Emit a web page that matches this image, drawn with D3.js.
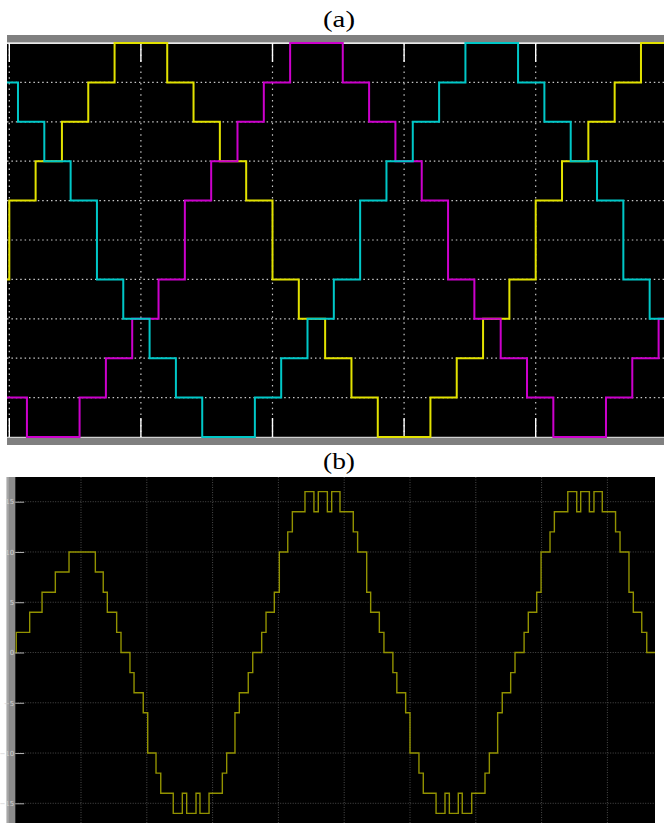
<!DOCTYPE html>
<html>
<head>
<meta charset="utf-8">
<script src="https://cdn.jsdelivr.net/npm/d3@7"></script>
<style>
  body { margin: 0; background: #fff; }
  svg { display: block; }
</style>
</head>
<body>
<div id="chart"></div>
<script>
// ---- panel (a): three phase staircase voltages (time in ms, level in steps)
const phaseA_t = [-0.1, 0, 1, 2, 3, 4, 6, 7, 8, 9, 10, 11, 12, 13, 14, 16, 17, 18, 19, 20, 21, 22, 23, 24];
const phaseA_v = [-1, 1, 2, 3, 4, 5, 4, 3, 2, 1, -1, -2, -3, -4, -5, -4, -3, -2, -1, 1, 2, 3, 4, 5];

const phaseB_t = [-0.1, 0.33, 1.33, 2.33, 3.33, 4.33, 5.33, 6.33, 7.33, 9.33, 10.33, 11.33, 12.33, 13.33, 14.33, 15.33, 16.33, 17.33, 19.33, 20.33, 21.33, 22.33, 23.33, 24.33];
const phaseB_v = [4, 3, 2, 1, -1, -2, -3, -4, -5, -4, -3, -2, -1, 1, 2, 3, 4, 5, 4, 3, 2, 1, -1, -2];

const phaseC_t = [-0.1, 0.67, 2.67, 3.67, 4.67, 5.67, 6.67, 7.67, 8.67, 9.67, 10.67, 12.67, 13.67, 14.67, 15.67, 16.67, 17.67, 18.67, 19.67, 20.67, 22.67, 23.67, 24.67];
const phaseC_v = [-4, -5, -4, -3, -2, -1, 1, 2, 3, 4, 5, 4, 3, 2, 1, -1, -2, -3, -4, -5, -4, -3, -2];

const gridA_t = [0, 5, 10, 15, 20];
const gridA_v = [-4, -3, -2, -1, 0, 1, 2, 3, 4];

// ---- panel (b): line voltage staircase
const line_t = [0, 0.08, 1.1, 2.04, 3.05, 4.09, 6.09, 6.69, 7.0, 7.71, 8.04, 8.72, 9.03, 9.73, 10.07, 10.7,
  11.06, 12.01, 12.7, 13.03, 13.74, 14.04, 14.73, 15.74, 16.07, 16.7, 17.03, 17.71, 18.05, 18.73, 19.06,
  19.69, 20.07, 20.71, 21.06, 22.02, 22.7, 23.03, 23.72, 24.05, 24.68, 25.69, 26.02, 26.71, 27.01, 27.67,
  28.02, 28.7, 29.0, 29.67, 30.0, 30.68, 31.01, 31.98, 32.66, 32.99, 33.67, 33.97, 34.69, 35.7, 36.03,
  36.66, 37.01, 37.65, 37.98, 38.67, 38.99, 39.63, 39.96, 40.64, 40.97, 41.99, 42.67, 42.97, 43.63, 43.98,
  44.61, 45.62, 45.96, 46.64, 46.97, 47.61, 47.99];
const line_v = [0, 2, 4, 6, 8, 10, 8, 6, 4, 2, 0, -2, -4, -6, -10, -12,
  -14, -16, -14, -16, -14, -16, -14, -12, -10, -6, -4, -2, 0, 2, 4,
  6, 10, 12, 14, 16, 14, 16, 14, 16, 14, 12, 10, 6, 4, 2,
  0, -2, -4, -6, -10, -12, -14, -16, -14, -16, -14, -16, -14, -12, -10,
  -6, -4, -2, 0, 2, 4, 6, 10, 12, 14, 16, 14, 16, 14, 16,
  14, 12, 10, 6, 4, 2, 0];

const gridB_t = [5, 10, 15, 20, 25, 30, 35, 40, 45];
const tickB_v = [15, 10, 5, 0, -5, -10, -15];

const W = 664, H = 823;
const serif = "'Liberation Serif', 'Times New Roman', serif";

const svg = d3.select("#chart")
  .append("svg")
  .attr("width", W)
  .attr("height", H);

svg.append("rect").attr("width", W).attr("height", H).attr("fill", "#fff");

// ================= panel (a) =================
const a = { left: 7, right: 664, top: 43, bottom: 437 };

const xA = d3.scaleLinear().domain([0, 25]).range([9.3, 667.3]);
const yA = d3.scaleLinear().domain([-5, 5]).range([437, 43]);

svg.append("text")
  .attr("x", 339).attr("y", 27)
  .attr("text-anchor", "middle")
  .style("font-family", serif)
  .attr("font-size", 23)
  .attr("textLength", 32).attr("lengthAdjust", "spacingAndGlyphs")
  .text("(a)");

svg.append("rect")
  .attr("x", a.left).attr("y", 35).attr("width", a.right - a.left).attr("height", 7.5)
  .attr("fill", "#808080");
svg.append("rect")
  .attr("x", a.left).attr("y", a.top).attr("width", a.right - a.left).attr("height", a.bottom - a.top)
  .attr("fill", "#000");
svg.append("rect")
  .attr("x", a.left).attr("y", 438).attr("width", a.right - a.left).attr("height", 7)
  .attr("fill", "#808080");

svg.append("defs").append("clipPath").attr("id", "clipA")
  .append("rect")
  .attr("x", a.left).attr("y", 40).attr("width", a.right - a.left).attr("height", 400);

const gA = svg.append("g").attr("clip-path", "url(#clipA)");

// dotted grid
gA.append("g")
  .selectAll("line")
  .data(gridA_v)
  .enter()
  .append("line")
    .attr("x1", a.left).attr("x2", a.right)
    .attr("y1", d => yA(d)).attr("y2", d => yA(d))
    .attr("stroke", "#c8c8c8").attr("stroke-width", 1.2)
    .attr("stroke-dasharray", "1.5,2.9");

gA.append("g")
  .selectAll("line")
  .data(gridA_t)
  .enter()
  .append("line")
    .attr("x1", d => xA(d)).attr("x2", d => xA(d))
    .attr("y1", a.top).attr("y2", a.bottom)
    .attr("stroke", "#c8c8c8").attr("stroke-width", 1.2)
    .attr("stroke-dasharray", "1.5,4.2");

// white border lines and solid ticks
gA.append("line")
  .attr("x1", a.left).attr("x2", a.right).attr("y1", 43.3).attr("y2", 43.3)
  .attr("stroke", "#e8e8e8").attr("stroke-width", 1.3);
gA.append("line")
  .attr("x1", a.left).attr("x2", a.right).attr("y1", 437.3).attr("y2", 437.3)
  .attr("stroke", "#d0d0d0").attr("stroke-width", 1.3);

gA.append("g")
  .selectAll("path")
  .data(gridA_t)
  .enter()
  .append("path")
    .attr("d", d => `M${xA(d)},43V62M${xA(d)},418V437`)
    .attr("stroke", "#fff").attr("stroke-width", 1.4);

const stepA = d3.line()
  .x(d => xA(d[0]))
  .y(d => yA(d[1]))
  .curve(d3.curveStepAfter);

function pts(ts, vs) {
  const p = ts.map((t, i) => [t, vs[i]]);
  p.push([25.5, vs[vs.length - 1]]);
  return p;
}

const phases = [
  { t: phaseA_t, v: phaseA_v, color: "#e2e200" },
  { t: phaseC_t, v: phaseC_v, color: "#cc00cc" },
  { t: phaseB_t, v: phaseB_v, color: "#00c8c8" }
];

gA.selectAll(".phase")
  .data(phases)
  .enter()
  .append("path")
    .attr("class", "phase")
    .attr("d", d => stepA(pts(d.t, d.v)))
    .attr("fill", "none")
    .attr("stroke", d => d.color)
    .attr("stroke-width", 2);

// ================= panel (b) =================
const b = { left: 15.2, right: 655, top: 477, bottom: 823 };

const xB = d3.scaleLinear().domain([0, 5]).range([15.2, 81]);
const yB = d3.scaleLinear().domain([-15, 15]).range([803.3, 501.7]);

svg.append("text")
  .attr("x", 339).attr("y", 469)
  .attr("text-anchor", "middle")
  .style("font-family", serif)
  .attr("font-size", 23)
  .attr("textLength", 32).attr("lengthAdjust", "spacingAndGlyphs")
  .text("(b)");

svg.append("rect")
  .attr("x", 6.7).attr("y", b.top).attr("width", b.left - 6.7).attr("height", b.bottom - b.top)
  .attr("fill", "#8c8c8c");
svg.append("rect")
  .attr("x", 6.7).attr("y", b.top).attr("width", 2).attr("height", b.bottom - b.top)
  .attr("fill", "#a8a8a8");
svg.append("rect")
  .attr("x", b.left).attr("y", b.top).attr("width", b.right - b.left).attr("height", b.bottom - b.top)
  .attr("fill", "#000");

svg.append("defs").append("clipPath").attr("id", "clipB")
  .append("rect")
  .attr("x", b.left).attr("y", b.top).attr("width", b.right - b.left).attr("height", b.bottom - b.top);

const gB = svg.append("g").attr("clip-path", "url(#clipB)");

gB.append("g")
  .selectAll("line")
  .data(gridB_t)
  .enter()
  .append("line")
    .attr("x1", d => xB(d)).attr("x2", d => xB(d))
    .attr("y1", b.top).attr("y2", b.bottom)
    .attr("stroke", "#4a4a4a").attr("stroke-width", 1)
    .attr("stroke-dasharray", "1,1.5");

gB.append("g")
  .selectAll("line")
  .data(tickB_v)
  .enter()
  .append("line")
    .attr("x1", b.left).attr("x2", b.right)
    .attr("y1", d => yB(d)).attr("y2", d => yB(d))
    .attr("stroke", "#4a4a4a").attr("stroke-width", 1)
    .attr("stroke-dasharray", "1,1.5");

const yAxisB = svg.append("g")
  .attr("transform", `translate(${b.left},0)`)
  .call(d3.axisLeft(yB).tickValues(tickB_v).tickSizeInner(-9).tickSizeOuter(0).tickPadding(1));
yAxisB.select(".domain").remove();
yAxisB.selectAll("line").attr("stroke", "#b4b4b4");
yAxisB.selectAll("text")
  .attr("fill", "#d0d0d0")
  .attr("font-size", 7)
  .attr("font-family", "DejaVu Sans, sans-serif");

const stepB = d3.line()
  .x(d => xB(d[0]))
  .y(d => yB(d[1]))
  .curve(d3.curveStepAfter);

const lineData = line_t.map((t, i) => [t, line_v[i]]);
lineData.push([49, line_v[line_v.length - 1]]);

gB.append("path")
  .attr("d", stepB(lineData))
  .attr("fill", "none")
  .attr("stroke", "#929200")
  .attr("stroke-width", 1.4);
</script>
</body>
</html>
